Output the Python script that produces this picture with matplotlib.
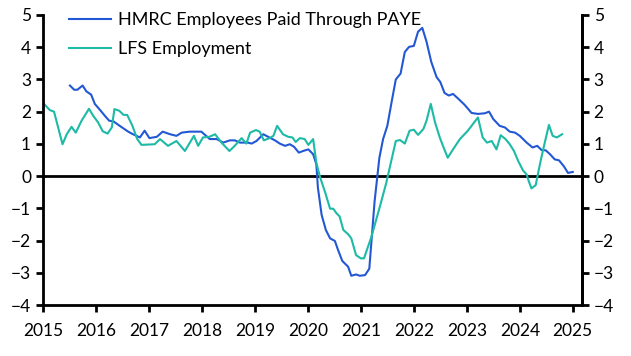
import matplotlib
matplotlib.use("Agg")
import matplotlib.pyplot as plt

plt.rcParams['font.family'] = ['Lato', 'DejaVu Sans']

# HMRC employees paid through PAYE, % y/y
hmrc_t = [2015.51, 2015.59, 2015.65, 2015.75, 2015.82, 2015.91, 2015.98, 2016.08,
          2016.17, 2016.25, 2016.33, 2016.45, 2016.61, 2016.70, 2016.83, 2016.92,
          2017.01, 2017.15, 2017.26, 2017.40, 2017.52, 2017.62, 2017.77, 2017.99,
          2018.08, 2018.15, 2018.28, 2018.40, 2018.53, 2018.62, 2018.72, 2018.87,
          2018.94, 2019.03, 2019.16, 2019.25, 2019.38, 2019.47, 2019.57, 2019.66,
          2019.74, 2019.83, 2019.91, 2020.01, 2020.10, 2020.16, 2020.19, 2020.26,
          2020.34, 2020.42, 2020.51, 2020.57, 2020.65, 2020.76, 2020.82, 2020.91,
          2020.98, 2021.08, 2021.16, 2021.20, 2021.26, 2021.35, 2021.42, 2021.50,
          2021.58, 2021.66, 2021.75, 2021.83, 2021.91, 2022.00, 2022.08, 2022.16,
          2022.24, 2022.33, 2022.43, 2022.50, 2022.58, 2022.66, 2022.74, 2022.84,
          2022.96, 2023.09, 2023.21, 2023.34, 2023.42, 2023.50, 2023.62, 2023.72,
          2023.81, 2023.91, 2024.00, 2024.13, 2024.24, 2024.33, 2024.41, 2024.49,
          2024.57, 2024.66, 2024.74, 2024.83, 2024.91, 2025.00]
hmrc_v = [2.81, 2.68, 2.68, 2.81, 2.63, 2.53, 2.24, 2.05,
          1.87, 1.72, 1.70, 1.56, 1.38, 1.30, 1.20, 1.41,
          1.18, 1.22, 1.38, 1.30, 1.25, 1.35, 1.38, 1.38,
          1.25, 1.15, 1.15, 1.04, 1.11, 1.11, 1.04, 1.04,
          1.01, 1.09, 1.30, 1.22, 1.11, 1.01, 0.94, 0.99,
          0.91, 0.73, 0.78, 0.83, 0.68, 0.37, -0.36, -1.20,
          -1.67, -1.93, -2.01, -2.29, -2.63, -2.81, -3.09, -3.05,
          -3.09, -3.07, -2.87, -2.03, -0.78, 0.57, 1.15, 1.56,
          2.29, 3.00, 3.18, 3.85, 4.01, 4.04, 4.48, 4.60,
          4.17, 3.54, 3.07, 2.92, 2.58, 2.50, 2.55, 2.40,
          2.21, 1.96, 1.93, 1.95, 2.00, 1.77, 1.56, 1.51,
          1.38, 1.35, 1.25, 1.04, 0.89, 0.94, 0.81, 0.80,
          0.68, 0.52, 0.49, 0.31, 0.10, 0.13]

# LFS employment, % y/y
lfs_t = [2015.02, 2015.13, 2015.21, 2015.37, 2015.45, 2015.54, 2015.62, 2015.73,
         2015.87, 2015.95, 2016.04, 2016.13, 2016.22, 2016.30, 2016.35, 2016.44,
         2016.52, 2016.59, 2016.69, 2016.78, 2016.86, 2017.11, 2017.21, 2017.36,
         2017.52, 2017.68, 2017.85, 2017.93, 2018.02, 2018.14, 2018.25, 2018.37,
         2018.52, 2018.62, 2018.75, 2018.84, 2018.91, 2019.02, 2019.09, 2019.17,
         2019.28, 2019.35, 2019.42, 2019.53, 2019.63, 2019.71, 2019.77, 2019.85,
         2019.94, 2020.01, 2020.10, 2020.16, 2020.23, 2020.32, 2020.42, 2020.48,
         2020.54, 2020.60, 2020.67, 2020.76, 2020.82, 2020.91, 2021.00, 2021.06,
         2021.20, 2021.36, 2021.48, 2021.66, 2021.74, 2021.83, 2021.92, 2022.00,
         2022.08, 2022.18, 2022.24, 2022.32, 2022.40, 2022.49, 2022.55, 2022.64,
         2022.74, 2022.87, 2023.02, 2023.21, 2023.30, 2023.38, 2023.47, 2023.56,
         2023.64, 2023.73, 2023.81, 2023.89, 2023.97, 2024.06, 2024.13, 2024.17,
         2024.22, 2024.30, 2024.38, 2024.45, 2024.55, 2024.62, 2024.70, 2024.80]
lfs_v = [2.24, 2.05, 2.00, 0.99, 1.30, 1.53, 1.35, 1.72,
         2.09, 1.87, 1.67, 1.39, 1.32, 1.51, 2.08, 2.03,
         1.90, 1.90, 1.56, 1.15, 0.97, 0.99, 1.15, 0.94,
         1.09, 0.78, 1.25, 0.94, 1.20, 1.22, 1.30, 1.04,
         0.78, 0.94, 1.18, 1.01, 1.35, 1.43, 1.38, 1.11,
         1.18, 1.25, 1.56, 1.30, 1.22, 1.20, 1.06, 1.18,
         1.15, 0.97, 1.15, 0.42, -0.03, -0.47, -1.01, -1.01,
         -1.15, -1.25, -1.67, -1.80, -1.93, -2.45, -2.55, -2.55,
         -1.88, -0.94, -0.21, 1.09, 1.12, 1.01, 1.41, 1.44,
         1.28, 1.46, 1.72, 2.24, 1.67, 1.20, 0.94, 0.57,
         0.83, 1.15, 1.41, 1.82, 1.20, 1.04, 1.09, 0.83,
         1.27, 1.15, 0.99, 0.78, 0.47, 0.18, 0.05, -0.16,
         -0.38, -0.28, 0.37, 0.89, 1.59, 1.25, 1.20, 1.30]

years = list(range(2015, 2026))
yticks = list(range(-4, 6))

fig = plt.figure(figsize=(6.31, 3.56), dpi=100)
ax = fig.add_axes([0.068, 0.143, 0.854, 0.815])

ax.plot(hmrc_t, hmrc_v, color='#2358d4', lw=1.5, label='HMRC Employees Paid Through PAYE')
ax.plot(lfs_t, lfs_v, color='#1dbaa6', lw=1.5, label='LFS Employment')
ax.axhline(0, color='black', lw=2, zorder=1)

ax.set_xlim(2015, 2025.17)
ax.set_ylim(-4, 5)
ax.set_xticks(years)
ax.set_xticklabels([str(y) for y in years])
ax.set_yticks(yticks)
ax.spines['top'].set_visible(False)
for s in ['left', 'right', 'bottom']:
    ax.spines[s].set_linewidth(2)
ax.tick_params(direction='out', length=5, width=2, labelsize=12.5, colors='black')
ax.tick_params(axis='x', pad=8)

ax2 = ax.twinx()
ax2.set_ylim(-4, 5)
ax2.set_yticks(yticks)
ax2.spines['top'].set_visible(False)
ax2.spines['right'].set_linewidth(2)
ax2.tick_params(direction='out', length=5, width=2, labelsize=12.5)

ax.legend(loc='upper left', bbox_to_anchor=(0.019, 1.065), frameon=False,
          fontsize=13, handlelength=2.3, labelspacing=0.7, handletextpad=0.4)

fig.savefig('out.png', dpi=100)
